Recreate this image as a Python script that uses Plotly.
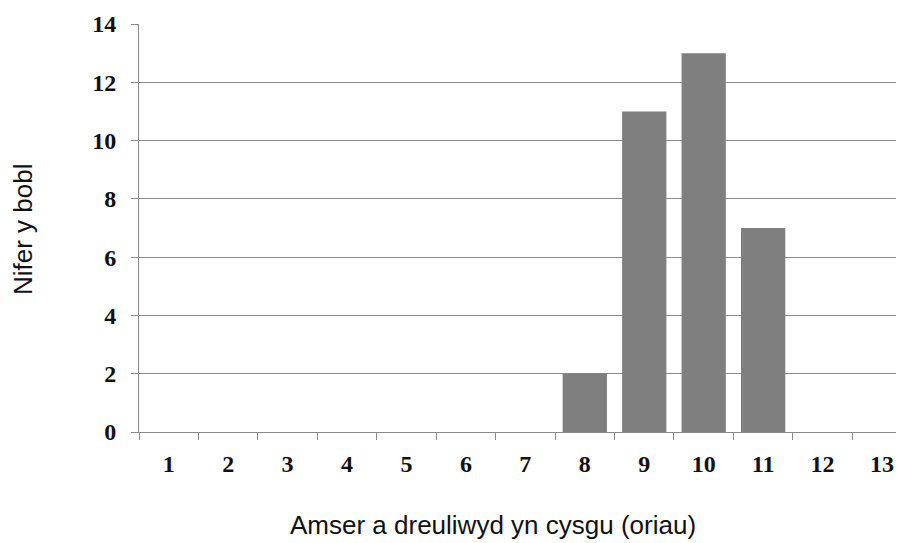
import plotly.graph_objects as go

categories = [str(i) for i in range(1, 14)]
counts = [0, 0, 0, 0, 0, 0, 0, 2, 11, 13, 7, 0, 0]
y_ticks = [0, 2, 4, 6, 8, 10, 12, 14]

x_title = "Amser a dreuliwyd yn cysgu (oriau)"
y_title = "Nifer y bobl"

grid = "#8a8a8a"
tickfont = dict(family="Liberation Serif", size=24, color="#111111", weight="bold")
titlefont = dict(family="Liberation Sans", size=26, color="#111111")

fig = go.Figure(go.Bar(x=categories, y=counts, marker=dict(color="#7f7f7f", line=dict(width=0))))

# page has an 8px body margin; figure sized so the plot ends at the window edge
W, H = 896, 535
L, T, B = 131, 16, 111
pw, ph = W - L, H - T - B

fig.update_layout(
    width=W, height=H,
    margin=dict(l=L, r=0, t=T, b=B),
    paper_bgcolor="white", plot_bgcolor="white",
    bargap=0.255, showlegend=False,
    xaxis=dict(type="category", range=[-0.5, 12.37], tickson="boundaries",
               ticks="outside", ticklen=7, tickcolor=grid, tickwidth=1,
               showline=True, linecolor=grid, linewidth=1, showgrid=False,
               tickfont=tickfont, ticklabelstandoff=10),
    yaxis=dict(range=[0, 14], tickvals=y_ticks, ticks="outside", ticklen=7,
               tickcolor=grid, showline=True, linecolor=grid, linewidth=1,
               showgrid=True, gridcolor=grid, gridwidth=1, zeroline=False,
               tickfont=tickfont, ticklabelstandoff=10),
    annotations=[
        dict(text=x_title, xref="paper", yref="paper",
             x=(492.5 - 8 - L) / pw, y=(T + ph - (525 - 8)) / ph,
             showarrow=False, xanchor="center", yanchor="middle", font=titlefont),
        dict(text=y_title, xref="paper", yref="paper",
             x=(23 - 8 - L) / pw, y=(T + ph - (229 - 8)) / ph,
             showarrow=False, xanchor="center", yanchor="middle", textangle=-90,
             font=titlefont),
    ],
)

fig.write_html("out.html")
